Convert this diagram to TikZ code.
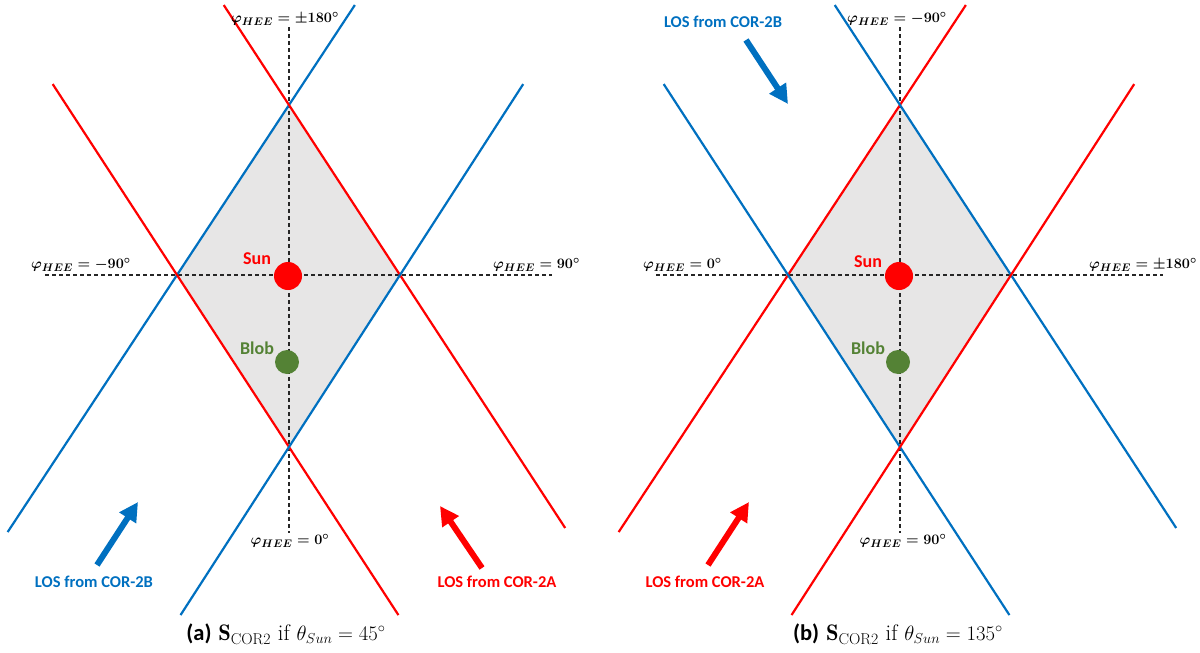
\documentclass[tikz,border=0pt]{standalone}
\usepackage{amsmath,bm}
\usepackage{fontspec}
\newfontfamily\carl{Carlito}
\usetikzlibrary{calc,arrows.meta}
\definecolor{cblue}{HTML}{0070C0}
\definecolor{cred}{HTML}{FF0000}
\definecolor{cgreen}{HTML}{548235}
\definecolor{cgray}{HTML}{E7E6E6}
\tikzset{
  dline/.style={draw=black!85,line width=1.1pt,dash pattern=on 4pt off 3pt},
  bl/.style={draw=cblue,line width=2.2pt},
  rl/.style={draw=cred,line width=2.2pt},
  losarrow/.style={line width=6pt,-{Triangle[length=19pt,width=19pt]}},
  philab/.style={inner sep=0pt,font=\fontsize{15.5}{17}\selectfont\boldmath},
  loslab/.style={inner sep=0pt,font=\carl\bfseries\fontsize{16.5}{18}\selectfont},
  bodylab/.style={inner sep=0pt,font=\carl\bfseries\fontsize{18}{20}\selectfont},
  sunball/.style={circle,fill=cred,minimum size=28pt,inner sep=0pt},
  blobball/.style={circle,fill=cgreen,minimum size=24pt,inner sep=0pt},
  titlelab/.style={inner sep=0pt,font=\fontsize{22.5}{26}\selectfont},
}
\newcommand{\phiH}[1]{$\varphi_{HEE}=#1^{\circ}$}
\begin{document}
\begin{tikzpicture}[x=1pt,y=-1pt]
\useasboundingbox (0,0) rectangle (1200,653);
% ---------------- panel (a) ----------------
\coordinate (At) at (289,105);
\coordinate (Al) at (177,275);
\coordinate (Ar) at (400,275);
\coordinate (Ab) at (289,447);
\fill[cgray] (At) -- (Ar) -- (Ab) -- (Al) -- cycle;
\coordinate (AvT) at (289,27);
\coordinate (AvB) at (289,533);
\coordinate (AhL) at (45,275);
\coordinate (AhR) at (552,275);
\draw[dline] (AvT) -- (AvB);
\draw[dline] (AhL) -- (AhR);
\draw[bl] ($(Al)!-1.512!(At)$) -- ($(Al)!1.588!(At)$);
\draw[rl] ($(At)!-0.588!(Ar)$) -- ($(At)!2.488!(Ar)$);
\draw[rl] ($(Al)!-1.11!(Ab)$) -- ($(Al)!1.977!(Ab)$);
\draw[bl] ($(Ab)!-0.977!(Ar)$) -- ($(Ab)!2.11!(Ar)$);
\node[sunball] (Asun) at (288,276) {};
\node[blobball] (Ablob) at (287,362) {};
\node[bodylab,text=cred] (AsunL) at (257,259) {Sun};
\node[bodylab,text=cgreen] (AblobL) at (257,348) {Blob};
\node[philab] (Aptop) at (285,19) {\phiH{\pm180}};
\node[philab,anchor=west] (Apleft) at (31,265) {\phiH{-90}};
\node[philab,anchor=west] (Apright) at (493,265) {\phiH{90}};
\node[philab] (Apbot) at (290,541) {\phiH{0}};
\coordinate (AbA0) at (97,565);
\coordinate (AbA1) at (138,502);
\draw[losarrow,draw=cblue,fill=cblue] (AbA0) -- (AbA1);
\coordinate (ArA0) at (482,568);
\coordinate (ArA1) at (440,506);
\draw[losarrow,draw=cred,fill=cred] (ArA0) -- (ArA1);
\node[loslab,text=cblue] (AlosB) at (94,582) {LOS from COR-2B};
\node[loslab,text=cred] (AlosA) at (497,582) {LOS from COR-2A};
\node[titlelab] (Atitle) at (286,634) {{\carl\bfseries (a)} $\mathbf{S}_{\mathrm{COR2}}$ if $\theta_{Sun}=45^{\circ}$};
% ---------------- panel (b) ----------------
\coordinate (Bt) at (900,105);
\coordinate (Bl) at (788,275);
\coordinate (Br) at (1011,275);
\coordinate (Bb) at (900,447);
\fill[cgray] (Bt) -- (Br) -- (Bb) -- (Bl) -- cycle;
\coordinate (BvT) at (900,27);
\coordinate (BvB) at (900,533);
\coordinate (BhL) at (656,275);
\coordinate (BhR) at (1163,275);
\draw[dline] (BvT) -- (BvB);
\draw[dline] (BhL) -- (BhR);
\draw[rl] ($(Bl)!-1.512!(Bt)$) -- ($(Bl)!1.588!(Bt)$);
\draw[bl] ($(Bt)!-0.588!(Br)$) -- ($(Bt)!2.488!(Br)$);
\draw[bl] ($(Bl)!-1.11!(Bb)$) -- ($(Bl)!1.977!(Bb)$);
\draw[rl] ($(Bb)!-0.977!(Br)$) -- ($(Bb)!2.11!(Br)$);
\node[sunball] (Bsun) at (899,276) {};
\node[blobball] (Bblob) at (898,362) {};
\node[bodylab,text=cred] (BsunL) at (868,262) {Sun};
\node[bodylab,text=cgreen] (BblobL) at (868,348) {Blob};
\node[philab] (Bptop) at (897,19) {\phiH{-90}};
\node[philab,anchor=west] (Bpleft) at (643,265) {\phiH{0}};
\node[philab,anchor=east] (Bpright) at (1197,265) {\phiH{\pm180}};
\node[philab] (Bpbot) at (903,541) {\phiH{90}};
\coordinate (BbA0) at (746,40);
\coordinate (BbA1) at (788,104);
\draw[losarrow,draw=cblue,fill=cblue] (BbA0) -- (BbA1);
\coordinate (BrA0) at (708,565);
\coordinate (BrA1) at (749,502);
\draw[losarrow,draw=cred,fill=cred] (BrA0) -- (BrA1);
\node[loslab,text=cblue] (BlosB) at (723,22) {LOS from COR-2B};
\node[loslab,text=cred] (BlosA) at (705,582) {LOS from COR-2A};
\node[titlelab] (Btitle) at (898,634) {{\carl\bfseries (b)} $\mathbf{S}_{\mathrm{COR2}}$ if $\theta_{Sun}=135^{\circ}$};
\end{tikzpicture}
\end{document}
